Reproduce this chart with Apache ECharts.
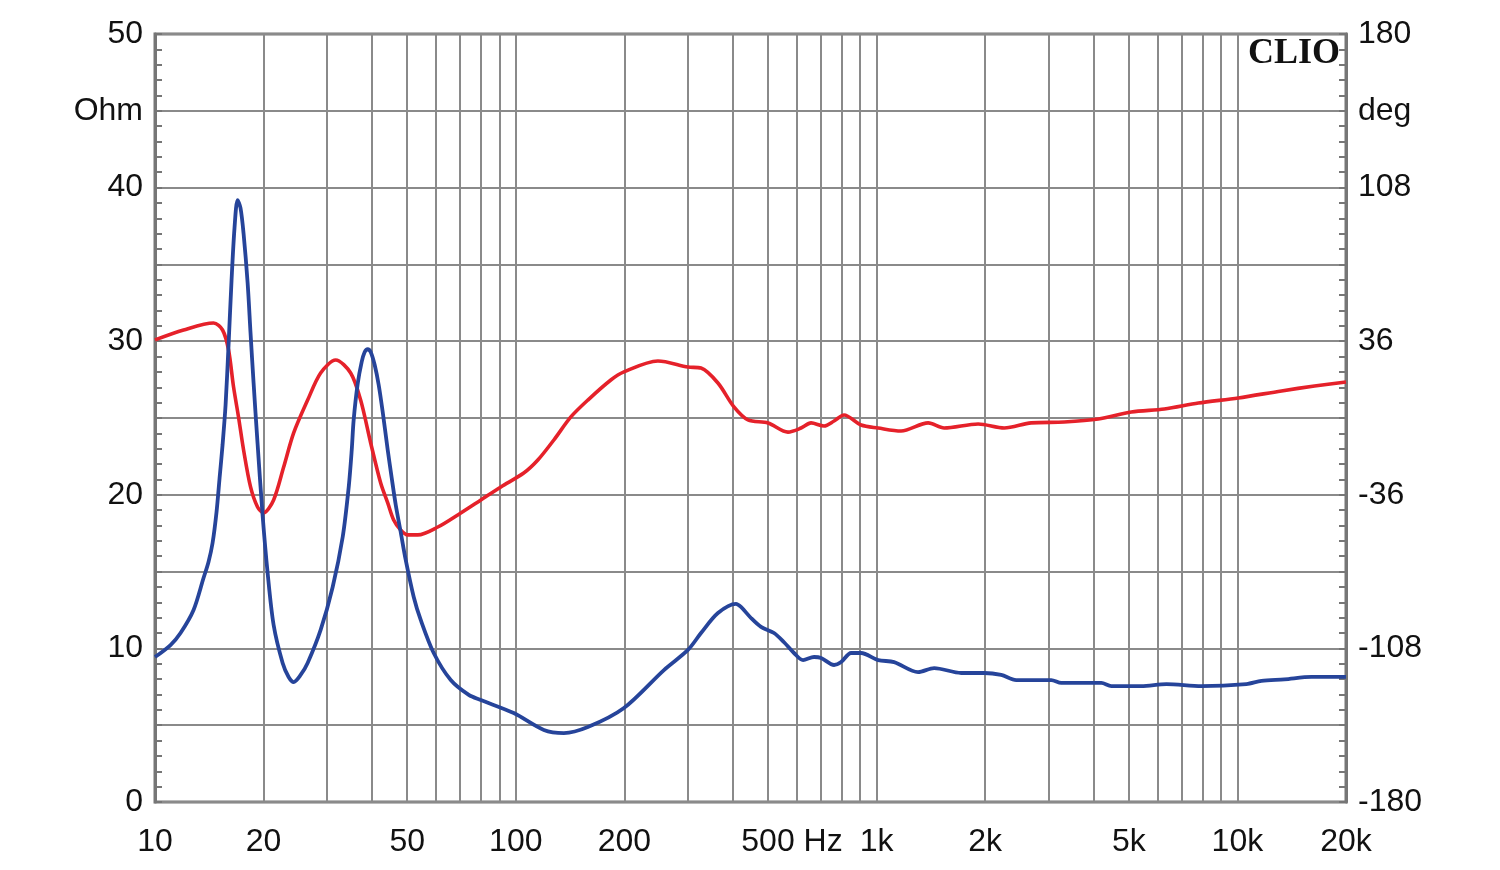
<!DOCTYPE html>
<html>
<head>
<meta charset="utf-8">
<script src="https://cdn.jsdelivr.net/npm/echarts@6/dist/echarts.min.js"></script>
<style>
html,body{margin:0;padding:0;background:#fff;}
#c{width:1500px;height:870px;}
</style>
</head>
<body>
<div id="c"></div>
<script>
// ---- data ----
const impFreq = [10.0, 11.04, 11.77, 12.79, 13.63, 14.07, 14.44, 14.81, 15.10, 15.39, 15.69, 15.99, 16.30, 16.61, 16.94, 17.26, 17.60, 18.06, 18.40, 18.76, 19.24, 19.87, 20.52, 21.32, 22.58, 23.46, 24.23, 25.33, 26.49, 28.78, 31.08, 33.13, 34.43, 35.10, 35.53, 36.45, 37.40, 38.12, 38.86, 39.61, 40.64, 41.69, 42.77, 44.16, 45.30, 46.48, 47.97, 49.53, 52.13, 54.51, 59.22, 66.02, 74.07, 79.96, 98.7, 119.6, 135.9, 158.4, 199.4, 257.4, 300.0, 326.1, 363.3, 407.6, 420.8, 448.6, 478.2, 519.6, 553.9, 590.3, 625.4, 670.9, 701.5, 762.4, 797.2, 849.8, 905.8, 1010, 1118, 1303, 1444, 1716, 1987, 2215, 2438, 3049, 3250, 4196, 4472, 5416, 6357, 7946, 10590, 11660, 13500, 16050, 20000];
const impOhm  = [9.44, 10.22, 11.0, 12.5, 14.58, 15.63, 16.86, 18.88, 21.09, 23.24, 25.85, 29.75, 33.98, 37.37, 39.19, 38.67, 37.0, 33.79, 30.53, 27.28, 23.37, 18.68, 14.91, 11.52, 9.05, 8.14, 7.81, 8.27, 9.05, 11.2, 14.0, 17.25, 20.51, 22.92, 24.87, 27.21, 28.65, 29.30, 29.49, 29.30, 28.45, 27.15, 25.39, 22.92, 21.09, 19.34, 17.58, 15.76, 13.35, 11.85, 9.70, 7.94, 6.97, 6.64, 5.79, 4.69, 4.49, 4.88, 6.12, 8.59, 9.9, 11.0, 12.3, 12.9, 12.7, 11.98, 11.4, 11.0, 10.4, 9.7, 9.24, 9.44, 9.38, 8.92, 9.11, 9.7, 9.7, 9.24, 9.11, 8.46, 8.72, 8.4, 8.4, 8.27, 7.94, 7.94, 7.75, 7.75, 7.55, 7.55, 7.68, 7.55, 7.68, 7.88, 7.98, 8.14, 8.14];

const phaseFreq = [10.0, 12.0, 14.53, 15.39, 15.99, 16.51, 17.04, 17.6, 18.4, 19.24, 20.0, 21.32, 22.73, 24.23, 26.49, 28.78, 31.68, 34.86, 37.15, 39.61, 42.22, 44.16, 45.87, 47.97, 50.16, 53.5, 60.8, 70.4, 80.0, 90.9, 105.2, 115.1, 127.5, 142.1, 158.4, 183.4, 199.4, 247.7, 300.0, 326.1, 363.3, 402.4, 440.1, 500.1, 568.1, 617.5, 658.1, 715.1, 762.4, 812.4, 905.8, 1010, 1169, 1390, 1539, 1912, 2258, 2683, 3312, 4116, 5082, 6275, 7796, 10060, 13250, 16360, 20000];
const phaseDeg  = [36.6, 41.25, 44.5, 41.25, 31.9, 14.5, 0.5, -15, -32.3, -41.7, -44.5, -38.4, -23, -7, 8.4, 21.1, 27.2, 21.1, 8.4, -11.7, -30.5, -39.8, -47.8, -52.5, -54.8, -54.8, -51.1, -44.5, -38.4, -32.3, -25.8, -19.7, -10.3, 0.5, 8.4, 17.8, 21.6, 26.7, 23.9, 23.4, 16.4, 5.2, -0.9, -2.3, -6.6, -4.7, -2.3, -3.75, -1.4, 1.4, -3.3, -4.7, -6.1, -2.3, -4.7, -2.8, -4.7, -2.3, -1.9, -0.5, 2.8, 4.2, 7.0, 9.4, 12.7, 15.0, 16.9];

// ---- axis ticks / labels ----
const tickFreqs  = [10, 20, 50, 100, 200, 500, 1000, 2000, 5000, 10000, 20000];
const tickLabels = ['10', '20', '50', '100', '200', '500 Hz', '1k', '2k', '5k', '10k', '20k'];
const gridFreqs  = [20, 30, 40, 50, 60, 70, 80, 90, 100, 200, 300, 400, 500, 600, 700, 800, 900, 1000, 2000, 3000, 4000, 5000, 6000, 7000, 8000, 9000, 10000];
const ohmLabels  = {0: '0', 10: '10', 20: '20', 30: '30', 40: '40', 45: 'Ohm', 50: '50'};
const degLabels  = {'-180': '-180', '-108': '-108', '-36': '-36', '36': '36', '108': '108', '144': 'deg', '180': '180'};

const FONT = '"Liberation Sans", Arial, sans-serif';
const GRID_COLOR = '#8a8a8a';
const AXIS_COLOR = '#767676';

const chart = echarts.init(document.getElementById('c'), null, {renderer: 'canvas'});

const markData = [];
gridFreqs.forEach(f => markData.push({xAxis: f, label: {show: false}}));
tickFreqs.forEach((f, i) => {
  const lbl = tickLabels[i];
  const item = {
    xAxis: f,
    lineStyle: {color: 'rgba(0,0,0,0)', width: 0},
    label: {
      show: true,
      position: 'start',
      distance: 24,
      formatter: lbl,
      color: '#111',
      opacity: 1,
      fontSize: 32,
      fontFamily: FONT
    }
  };
  if (lbl === '500 Hz') item.label.padding = [0, 0, 0, 48];
  markData.push(item);
});

const option = {
  animation: false,
  backgroundColor: '#fff',
  grid: {
    left: 155, top: 34, width: 1191, height: 768,
    show: true, borderColor: AXIS_COLOR, borderWidth: 3, backgroundColor: 'transparent'
  },
  xAxis: {
    type: 'log', logBase: 10, min: 10, max: 20000,
    axisLine: {show: false},
    axisTick: {show: false},
    axisLabel: {show: false},
    splitLine: {show: false},
    minorSplitLine: {show: false}
  },
  yAxis: [
    {
      type: 'value', min: 0, max: 50, interval: 5, position: 'left',
      axisLine: {show: true, lineStyle: {color: AXIS_COLOR, width: 3}},
      axisTick: {show: true, inside: true, length: 7, lineStyle: {color: AXIS_COLOR, width: 2}},
      minorTick: {show: true, splitNumber: 5, length: 7, lineStyle: {color: AXIS_COLOR, width: 2}},
      axisLabel: {
        margin: 12, color: '#111', fontSize: 32, fontFamily: FONT,
        formatter: v => (ohmLabels[v] !== undefined ? ohmLabels[v] : '')
      },
      splitLine: {show: true, lineStyle: {color: GRID_COLOR, width: 2}}
    },
    {
      type: 'value', min: -180, max: 180, interval: 36, position: 'right',
      axisLine: {show: true, lineStyle: {color: AXIS_COLOR, width: 3}},
      axisTick: {show: true, inside: true, length: 7, lineStyle: {color: AXIS_COLOR, width: 2}},
      minorTick: {show: true, splitNumber: 5, length: 7, lineStyle: {color: AXIS_COLOR, width: 2}},
      axisLabel: {
        margin: 12, color: '#111', fontSize: 32, fontFamily: FONT,
        formatter: v => {
          const k = String(Math.round(v));
          return degLabels[k] !== undefined ? degLabels[k] : '';
        }
      },
      splitLine: {show: false}
    }
  ],
  graphic: [
    {
      type: 'text', right: 160, top: 36, z: 10,
      style: {text: 'CLIO', fill: '#111', font: 'bold 36px "Liberation Serif", "DejaVu Serif", serif'}
    }
  ],
  series: [
    {
      name: 'grid', type: 'line', xAxisIndex: 0, yAxisIndex: 0, data: [], z: 1,
      silent: true,
      markLine: {
        silent: true, symbol: 'none', z: 1, animation: false,
        lineStyle: {color: GRID_COLOR, width: 2, type: 'solid'},
        data: markData
      }
    },
    {
      name: 'Impedance', type: 'line', xAxisIndex: 0, yAxisIndex: 0, z: 4,
      data: impFreq.map((f, i) => [f, impOhm[i]]),
      showSymbol: false, symbol: 'none', smooth: 0.3,
      lineStyle: {color: '#26449a', width: 3.8}
    },
    {
      name: 'Phase', type: 'line', xAxisIndex: 0, yAxisIndex: 1, z: 3,
      data: phaseFreq.map((f, i) => [f, phaseDeg[i]]),
      showSymbol: false, symbol: 'none', smooth: 0.3,
      lineStyle: {color: '#e5212a', width: 3.6}
    }
  ]
};
chart.setOption(option);
</script>
</body>
</html>
